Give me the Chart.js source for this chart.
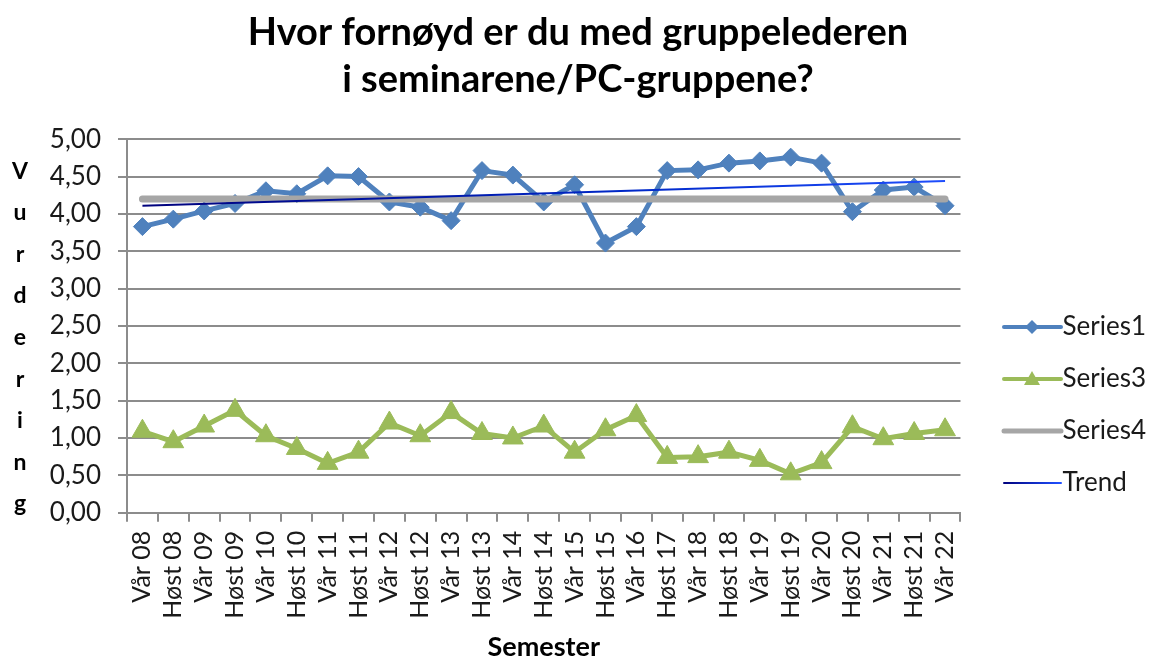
<!DOCTYPE html>
<html>
<head>
<meta charset="utf-8">
<script src="https://cdn.jsdelivr.net/npm/chart.js@4.4.1/dist/chart.umd.min.js"></script>
<style>
  html, body { margin: 0; padding: 0; background: #fff; }
</style>
</head>
<body>
<canvas id="myChart" width="1156" height="659"></canvas>
<script>
const semesters = [
    'Vår 08', 'Høst 08', 'Vår 09', 'Høst 09', 'Vår 10', 'Høst 10', 'Vår 11',
    'Høst 11', 'Vår 12', 'Høst 12', 'Vår 13', 'Høst 13', 'Vår 14', 'Høst 14',
    'Vår 15', 'Høst 15', 'Vår 16', 'Høst 17', 'Vår 18', 'Høst 18', 'Vår 19',
    'Høst 19', 'Vår 20', 'Høst 20', 'Vår 21', 'Høst 21', 'Vår 22'
];

const series1 = [3.83, 3.93, 4.04, 4.14, 4.31, 4.27, 4.51, 4.50, 4.16, 4.09, 3.91, 4.58, 4.52, 4.16,
    4.39, 3.61, 3.83, 4.58, 4.59, 4.68, 4.71, 4.76, 4.68, 4.03, 4.32, 4.36, 4.11];

const series3 = [1.09, 0.95, 1.16, 1.37, 1.03, 0.86, 0.66, 0.81, 1.20, 1.03, 1.34, 1.06, 1.00, 1.16,
    0.81, 1.11, 1.30, 0.74, 0.75, 0.81, 0.70, 0.52, 0.67, 1.15, 0.99, 1.06, 1.11];

const series4 = [4.2, 4.2, 4.2, 4.2, 4.2, 4.2, 4.2, 4.2, 4.2, 4.2, 4.2, 4.2, 4.2, 4.2,
    4.2, 4.2, 4.2, 4.2, 4.2, 4.2, 4.2, 4.2, 4.2, 4.2, 4.2, 4.2, 4.2];

// trend only has its two ends, the line is drawn across the gap
const trend = [4.11, null, null, null, null, null, null, null, null, null, null, null, null, null,
    null, null, null, null, null, null, null, null, null, null, null, null, 4.44];

const yTitle = ['V', 'u', 'r', 'd', 'e', 'r', 'i', 'n', 'g'];

const blue = '#4f81bd';
const green = '#9bbb59';
const grey = '#a6a6a6';
const axisGrey = '#8c8c8c';
const textColor = '#1a1a1a';

Chart.defaults.font.family = 'Lato';

// small pictures for the legend: line with the marker on it
// (the picture is wider than the legend box so the line sits a bit to the right)
function legendIcon(color, width, marker) {
    const c = document.createElement('canvas');
    c.width = 100;
    c.height = 26;
    const g = c.getContext('2d');
    if (color === 'trend') {
        const grad = g.createLinearGradient(34, 0, 92, 0);
        grad.addColorStop(0, '#00007a');
        grad.addColorStop(1, '#1f4fff');
        g.strokeStyle = grad;
    } else {
        g.strokeStyle = color;
    }
    g.lineWidth = width;
    g.lineCap = 'round';
    g.beginPath();
    g.moveTo(36, 13);
    g.lineTo(93, 13);
    g.stroke();
    g.fillStyle = color;
    if (marker === 'diamond') {
        g.beginPath();
        g.moveTo(64, 6); g.lineTo(71, 13); g.lineTo(64, 20); g.lineTo(57, 13);
        g.closePath();
        g.fill();
    } else if (marker === 'triangle') {
        g.beginPath();
        g.moveTo(64, 5); g.lineTo(72, 19); g.lineTo(56, 19);
        g.closePath();
        g.fill();
    }
    return c;
}

const icons = [
    legendIcon(blue, 4, 'diamond'),
    legendIcon(green, 4, 'triangle'),
    legendIcon(grey, 5, null),
    legendIcon('trend', 2, null)
];

const yTitlePlugin = {
    id: 'yTitle',
    afterDraw(chart) {
        const { ctx, chartArea } = chart;
        ctx.save();
        ctx.font = 'bold 23px Lato';
        ctx.fillStyle = '#000';
        ctx.textAlign = 'center';
        ctx.textBaseline = 'middle';
        yTitle.forEach((ch, i) => {
            ctx.fillText(ch, 20, chartArea.top + 32 + i * 41.6);
        });
        ctx.restore();
    }
};

const data = {
    labels: semesters,
    datasets: [{
        label: 'Series1',
        data: series1,
        borderColor: blue,
        backgroundColor: blue,
        borderWidth: 5,
        pointStyle: 'rectRot',
        pointRadius: 9,
        pointBorderWidth: 1,
        pointBorderColor: blue,
        tension: 0,
        order: 4
    }, {
        label: 'Series3',
        data: series3,
        borderColor: green,
        backgroundColor: green,
        borderWidth: 5,
        pointStyle: 'triangle',
        pointRadius: 12,
        pointBorderWidth: 1,
        pointBorderColor: green,
        tension: 0,
        order: 3
    }, {
        label: 'Series4',
        data: series4,
        borderColor: grey,
        backgroundColor: grey,
        borderWidth: 7,
        pointRadius: 0,
        borderCapStyle: 'round',
        order: 2
    }, {
        label: 'Trend',
        data: trend,
        spanGaps: true,
        borderWidth: 2,
        pointRadius: 0,
        borderColor: (ctx) => {
            const area = ctx.chart.chartArea;
            if (!area) return '#00008b';
            const grad = ctx.chart.ctx.createLinearGradient(area.left, 0, area.right, 0);
            grad.addColorStop(0, '#00007a');
            grad.addColorStop(0.6, '#0028c8');
            grad.addColorStop(1, '#1f4fff');
            return grad;
        },
        order: 1
    }]
};

const config = {
    type: 'line',
    data: data,
    plugins: [yTitlePlugin],
    options: {
        responsive: false,
        animation: false,
        devicePixelRatio: 1,
        layout: { padding: { left: 0, right: 0, top: 0, bottom: 0 } },
        plugins: {
            title: {
                display: true,
                text: ['Hvor fornøyd er du med gruppelederen', 'i seminarene/PC-gruppene?'],
                color: '#000',
                font: { family: 'Lato', size: 38, weight: 'bold', lineHeight: 1.24 },
                padding: { top: 9, bottom: 36 }
            },
            legend: {
                position: 'right',
                align: 'start',
                // empty title only pushes the entries down
                title: { display: true, text: '', font: { size: 20 }, padding: { top: 264, bottom: 0 } },
                labels: {
                    usePointStyle: true,
                    pointStyleWidth: 63,
                    padding: 26,
                    color: textColor,
                    font: { family: 'Lato', size: 26 },
                    generateLabels: (chart) => chart.data.datasets.map((ds, i) => ({
                        text: ds.label,
                        pointStyle: icons[i],
                        fontColor: textColor,
                        fillStyle: 'rgba(0,0,0,0)',
                        strokeStyle: 'rgba(0,0,0,0)',
                        lineWidth: 0,
                        hidden: false,
                        datasetIndex: i
                    }))
                }
            },
            tooltip: { enabled: false }
        },
        scales: {
            x: {
                offset: true,
                grid: { offset: true, drawOnChartArea: false, color: axisGrey, lineWidth: 2, tickLength: 9 },
                border: { color: axisGrey, width: 2 },
                ticks: { autoSkip: false, minRotation: 90, maxRotation: 90, padding: 9, color: textColor, font: { family: 'Lato', size: 25 } },
                title: {
                    display: true,
                    text: 'Semester',
                    color: '#000',
                    font: { family: 'Lato', size: 27, weight: 'bold', lineHeight: 0.9 },
                    padding: { top: 7, bottom: 0 }
                }
            },
            y: {
                min: 0,
                max: 5,
                afterFit: (scale) => { scale.width = 127; },
                grid: { color: axisGrey, lineWidth: 2, tickLength: 9 },
                border: { color: axisGrey, width: 2 },
                ticks: {
                    stepSize: 0.5,
                    padding: 17,
                    color: textColor,
                    font: { family: 'Lato', size: 26 },
                    callback: (v) => v.toFixed(2).replace('.', ',')
                }
            }
        }
    }
};

new Chart(document.getElementById('myChart'), config);
</script>
</body>
</html>
